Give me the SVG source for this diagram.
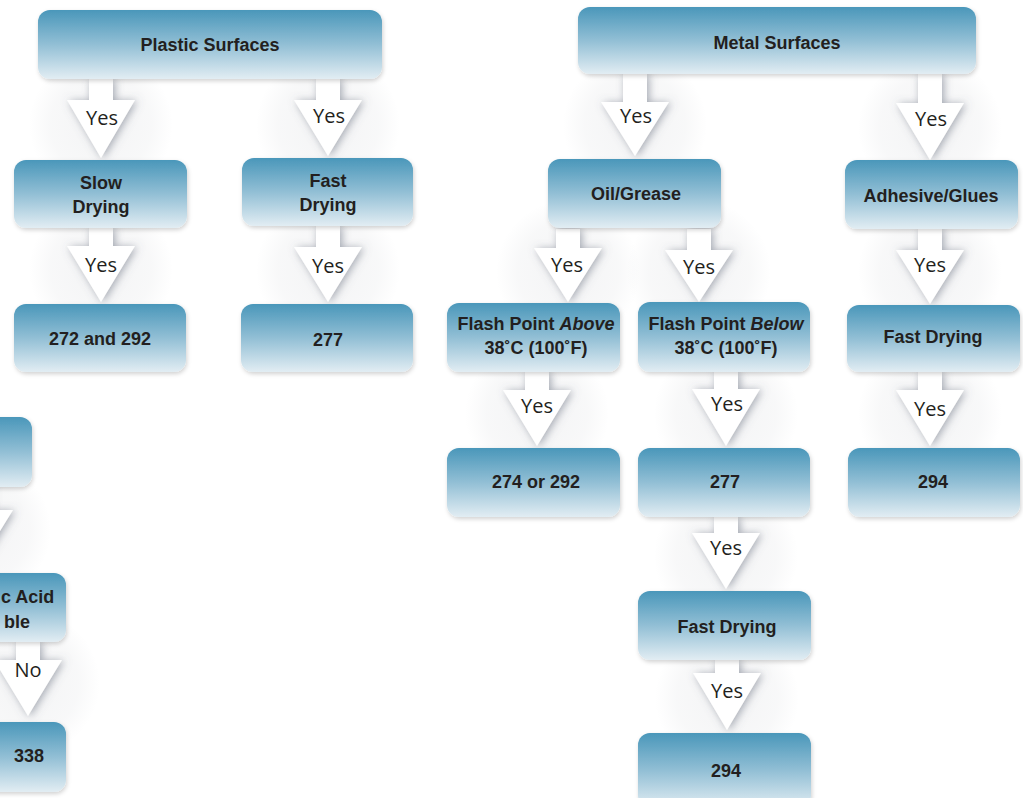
<svg xmlns="http://www.w3.org/2000/svg" width="1023" height="798" viewBox="0 0 1023 798">
<defs>
<linearGradient id="boxg" x1="0" y1="0" x2="0" y2="1">
<stop offset="0" stop-color="#4a97ba"/>
<stop offset="0.5" stop-color="#92bfd5"/>
<stop offset="1" stop-color="#e2edf3"/>
</linearGradient>
<radialGradient id="halo">
<stop offset="0" stop-color="#8a8f99" stop-opacity="0.10"/>
<stop offset="0.7" stop-color="#8a8f99" stop-opacity="0.06"/>
<stop offset="1" stop-color="#8a8f99" stop-opacity="0"/>
</radialGradient>
<filter id="bsh" x="-10%" y="-20%" width="120%" height="150%">
<feDropShadow dx="1" dy="2" stdDeviation="2" flood-color="#000" flood-opacity="0.18"/>
</filter>
<filter id="ash" x="-50%" y="-30%" width="200%" height="160%">
<feGaussianBlur in="SourceAlpha" stdDeviation="4"/>
<feOffset dx="2" dy="1" result="b"/>
<feFlood flood-color="#5f6778" flood-opacity="0.55"/>
<feComposite in2="b" operator="in"/>
<feMerge><feMergeNode/><feMergeNode in="SourceGraphic"/></feMerge>
</filter>
</defs>
<style>
.box{fill:url(#boxg);filter:url(#bsh)}
.lbl{font-family:"Liberation Sans",Arial,sans-serif;font-weight:bold;font-size:18px;fill:#231f20;text-anchor:middle}
.yes{font-family:"Open Sans","Liberation Sans",sans-serif;font-size:20px;fill:#231f20;text-anchor:middle}
.arrow{fill:#fff;filter:url(#ash)}
.halo{fill:url(#halo)}
</style>
<g id="halos">
<circle class="halo" cx="101" cy="125" r="72"/>
<circle class="halo" cx="328" cy="125" r="72"/>
<circle class="halo" cx="101" cy="270" r="72"/>
<circle class="halo" cx="328" cy="270" r="72"/>
<circle class="halo" cx="635" cy="125" r="72"/>
<circle class="halo" cx="930" cy="128" r="72"/>
<circle class="halo" cx="568" cy="272" r="72"/>
<circle class="halo" cx="699" cy="272" r="72"/>
<circle class="halo" cx="930" cy="272" r="72"/>
<circle class="halo" cx="537" cy="414" r="72"/>
<circle class="halo" cx="726" cy="414" r="72"/>
<circle class="halo" cx="930" cy="414" r="72"/>
<circle class="halo" cx="726" cy="556" r="72"/>
<circle class="halo" cx="727" cy="698" r="72"/>
<circle class="halo" cx="-21" cy="530" r="72"/>
<circle class="halo" cx="28" cy="683" r="72"/>
</g>
<g id="connectors">
<path class="arrow" d="M89,79 L113,79 L113,100 L135,100 L101,158 L67,100 L89,100 Z"/>
<path class="arrow" d="M316,79 L340,79 L340,100 L362,100 L328,156 L294,100 L316,100 Z"/>
<path class="arrow" d="M89,228 L113,228 L113,246 L135,246 L101,302 L67,246 L89,246 Z"/>
<path class="arrow" d="M316,226 L340,226 L340,247 L362,247 L328,302 L294,247 L316,247 Z"/>
<path class="arrow" d="M623,74 L647,74 L647,102 L669,102 L635,156 L601,102 L623,102 Z"/>
<path class="arrow" d="M918,74 L942,74 L942,103 L964,103 L930,160 L896,103 L918,103 Z"/>
<path class="arrow" d="M556,229 L580,229 L580,248 L602,248 L568,302 L534,248 L556,248 Z"/>
<path class="arrow" d="M687,229 L711,229 L711,250 L733,250 L699,302 L665,250 L687,250 Z"/>
<path class="arrow" d="M918,229 L942,229 L942,250 L964,250 L930,304 L896,250 L918,250 Z"/>
<path class="arrow" d="M525,372 L549,372 L549,390 L571,390 L537,446 L503,390 L525,390 Z"/>
<path class="arrow" d="M714,372 L738,372 L738,389 L760,389 L726,446 L692,389 L714,389 Z"/>
<path class="arrow" d="M918,372 L942,372 L942,390 L964,390 L930,446 L896,390 L918,390 Z"/>
<path class="arrow" d="M714,517 L738,517 L738,533 L760,533 L726,589 L692,533 L714,533 Z"/>
<path class="arrow" d="M715,660 L739,660 L739,673 L761,673 L727,730 L693,673 L715,673 Z"/>
<path class="arrow" d="M-33,487 L-9,487 L-9,510 L13,510 L-21,565 L-55,510 L-33,510 Z"/>
<path class="arrow" d="M16,642 L40,642 L40,660 L62,660 L28,716 L-6,660 L16,660 Z"/>
<text class="yes" x="102" y="125">Yes</text>
<text class="yes" x="329" y="123">Yes</text>
<text class="yes" x="101" y="272">Yes</text>
<text class="yes" x="328" y="273">Yes</text>
<text class="yes" x="636" y="123">Yes</text>
<text class="yes" x="931" y="126">Yes</text>
<text class="yes" x="567" y="272">Yes</text>
<text class="yes" x="699" y="274">Yes</text>
<text class="yes" x="930" y="272">Yes</text>
<text class="yes" x="537" y="413">Yes</text>
<text class="yes" x="727" y="411">Yes</text>
<text class="yes" x="930" y="416">Yes</text>
<text class="yes" x="726" y="555">Yes</text>
<text class="yes" x="727" y="698">Yes</text>
<text class="yes" x="28" y="677">No</text>
</g>
<g id="plastic"><rect class="box" x="38" y="10" width="344" height="69" rx="12"/><text class="lbl" x="210" y="51">Plastic Surfaces</text></g>
<g id="metal"><rect class="box" x="578" y="7" width="398" height="67" rx="12"/><text class="lbl" x="777" y="49">Metal Surfaces</text></g>
<g id="slow"><rect class="box" x="14" y="160" width="173" height="68" rx="12"/><text class="lbl" x="101" y="189">Slow</text><text class="lbl" x="101" y="213">Drying</text></g>
<g id="fast1"><rect class="box" x="242" y="158" width="171" height="68" rx="12"/><text class="lbl" x="328" y="187">Fast</text><text class="lbl" x="328" y="211">Drying</text></g>
<g id="n272"><rect class="box" x="14" y="304" width="172" height="68" rx="12"/><text class="lbl" x="100" y="345">272 and 292</text></g>
<g id="n277a"><rect class="box" x="241" y="304" width="172" height="68" rx="12"/><text class="lbl" x="328" y="346">277</text></g>
<g id="oil"><rect class="box" x="548" y="159" width="173" height="69" rx="12"/><text class="lbl" x="636" y="200">Oil/Grease</text></g>
<g id="adhesive"><rect class="box" x="845" y="160" width="173" height="69" rx="12"/><text class="lbl" x="931" y="202">Adhesive/Glues</text></g>
<g id="above"><rect class="box" x="447" y="303" width="173" height="69" rx="12"/><text class="lbl" x="536" y="330">Flash Point <tspan font-style="italic">Above</tspan></text><text class="lbl" x="536" y="354">38˚C (100˚F)</text></g>
<g id="below"><rect class="box" x="638" y="302" width="172" height="70" rx="12"/><text class="lbl" x="726" y="330">Flash Point <tspan font-style="italic">Below</tspan></text><text class="lbl" x="726" y="354">38˚C (100˚F)</text></g>
<g id="fast2"><rect class="box" x="847" y="305" width="173" height="67" rx="12"/><text class="lbl" x="933" y="343">Fast Drying</text></g>
<g id="n274"><rect class="box" x="447" y="448" width="173" height="69" rx="12"/><text class="lbl" x="536" y="488">274 or 292</text></g>
<g id="n277b"><rect class="box" x="638" y="448" width="172" height="69" rx="12"/><text class="lbl" x="725" y="488">277</text></g>
<g id="n294a"><rect class="box" x="848" y="448" width="172" height="69" rx="12"/><text class="lbl" x="933" y="488">294</text></g>
<g id="fast3"><rect class="box" x="638" y="591" width="173" height="69" rx="12"/><text class="lbl" x="727" y="633">Fast Drying</text></g>
<g id="n294b"><rect class="box" x="638" y="733" width="173" height="75" rx="12"/><text class="lbl" x="726" y="777">294</text></g>
<g id="leftTop"><rect class="box" x="-141" y="417" width="173" height="70" rx="12"/></g>
<g id="acid"><rect class="box" x="-107" y="573" width="173" height="69" rx="12"/><text class="lbl" x="1" y="603" style="text-anchor:start">c Acid</text><text class="lbl" x="30" y="628" style="text-anchor:end">ble</text></g>
<g id="n338"><rect class="box" x="-107" y="722" width="173" height="70" rx="12"/><text class="lbl" x="29" y="762">338</text></g>
</svg>
